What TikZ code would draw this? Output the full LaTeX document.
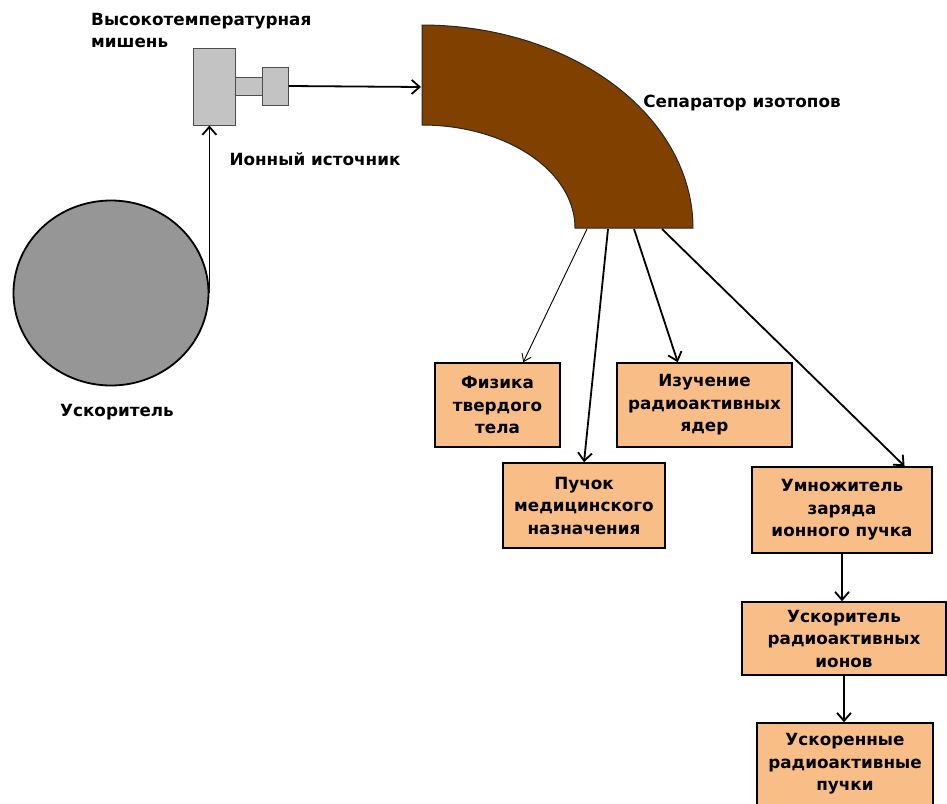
\documentclass[tikz,border=0pt]{standalone}
\usepackage{fontspec}
\setmainfont{DejaVu Sans}
\usepackage{xcolor}
\usetikzlibrary{shapes,arrows.meta,positioning,calc}
\definecolor{boxorange}{RGB}{249,190,135}
\definecolor{sepbrown}{RGB}{128,64,0}
\definecolor{accgray}{RGB}{150,150,150}
\definecolor{tgtgray}{RGB}{195,195,195}

\begin{document}
\begin{tikzpicture}[
    x=1pt, y=-1pt,
    font=\fontsize{16.8}{22.5}\selectfont\bfseries,
    stage/.style={rectangle, draw, line width=1.6pt, fill=boxorange, align=center, inner sep=0pt},
    part/.style={rectangle, draw=black!70, line width=1pt, fill=tgtgray, inner sep=0pt},
    lbl/.style={inner sep=0pt},
    arrow/.style={-{Straight Barb[length=8pt,width=14pt]}, line width=1.8pt},
    thinarrow/.style={-{Straight Barb[length=7pt,width=10pt]}, line width=0.9pt}
]
\useasboundingbox (0,0) rectangle (947,803);

% Accelerator
\node[ellipse, draw, line width=1.8pt, fill=accgray, minimum width=195pt, minimum height=185pt] (acc) at (111,293) {};
\node[lbl] (acclabel) at (117,412) {Ускоритель};

% Target and ion source
\node[part, minimum width=42pt, minimum height=77pt] (tgt) at (214,86.5) {};
\node[part, minimum width=27pt, minimum height=18pt] (neck) at (248.5,86) {};
\node[part, minimum width=26pt, minimum height=38pt] (src) at (275,86) {};
\node[lbl, anchor=north west, align=left] (tgtlabel) at (91,13) {Высокотемпературная\\мишень};
\node[lbl] (srclabel) at (315,159) {Ионный источник};

% Isotope separator
\filldraw[fill=sepbrown, draw=black!85, line width=1pt]
    plot[domain=90:0, samples=40] ({422+271*cos(\x)},{228-203*sin(\x)})
    -- plot[domain=0:90, samples=40] ({422+153*cos(\x)},{228-103*sin(\x)}) -- cycle;
\node[lbl] (seplabel) at (742,103) {Сепаратор изотопов};
\coordinate (sepin) at (421,87);
\coordinate (sep1) at (587,229);
\coordinate (sep2) at (608,229);
\coordinate (sep3) at (634,229);
\coordinate (sep4) at (662,229);

% Experiments
\node[stage, minimum width=125pt, minimum height=84pt] (solid) at (497.5,405) {Физика\\твердого\\тела};
\node[stage, minimum width=162pt, minimum height=85pt] (med) at (584,505.5) {Пучок\\медицинского\\назначения};
\node[stage, minimum width=175pt, minimum height=84pt] (nucl) at (704.5,405) {Изучение\\радиоактивных\\ядер};

% Post-acceleration chain
\node[stage, minimum width=180pt, minimum height=86pt] (mult) at (842,510) {Умножитель\\заряда\\ионного пучка};
\node[stage, minimum width=204pt, minimum height=73pt] (raccel) at (844,638.5) {Ускоритель\\радиоактивных\\ионов};
\node[stage, minimum width=176pt, minimum height=82pt] (fast) at (845,764) {Ускоренные\\радиоактивные\\пучки};

% Arrows
\draw[arrow] (acc.east) -- (acc.east |- tgt.south);
\draw[arrow] (src.east) -- (sepin);

\draw[thinarrow] (sep1) -- (solid.59);
\draw[arrow] (sep2) -- (med.north);
\draw[arrow] (sep3) -- (nucl.122);
\draw[arrow] (sep4) -- (mult.35);

\draw[arrow] (mult.south) -- (mult.south |- raccel.north);
\draw[arrow] (raccel.south) -- (raccel.south |- fast.north);

\end{tikzpicture}
\end{document}
